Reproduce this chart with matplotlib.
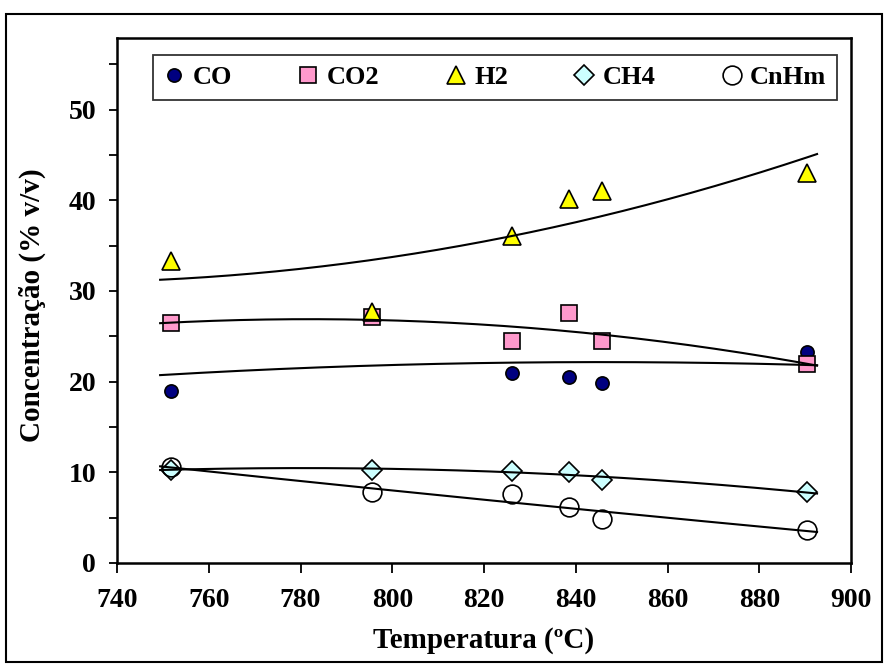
import numpy as np
import matplotlib
matplotlib.use("Agg")
import matplotlib.pyplot as plt
from matplotlib.patches import Rectangle

# dados
temperatura = [751.7, 795.6, 826.0, 838.6, 845.7, 890.5]
co = [19.0, 27.1, 21.0, 20.5, 19.9, 23.3]
co2 = [26.5, 27.1, 24.5, 27.6, 24.5, 21.9]
h2 = [33.3, 27.7, 36.1, 40.1, 41.0, 43.0]
ch4 = [10.3, 10.3, 10.2, 10.0, 9.1, 7.8]
cnhm = [10.6, 7.8, 7.6, 6.2, 4.9, 3.6]

nomes = ["CO", "CO2", "H2", "CH4", "CnHm"]

plt.rcParams['font.family'] = ['Liberation Serif', 'DejaVu Serif']
plt.rcParams['font.weight'] = 'bold'

fig = plt.figure(figsize=(8.88, 6.68), dpi=100)
ax = fig.add_axes([117/888, 1-563/668, (851-117)/888, (563-38)/668])

# moldura externa
fig.patches.append(Rectangle((6/888, 1-662/668), 876/888, 648/668, transform=fig.transFigure,
                             fill=False, edgecolor='black', linewidth=1.5))

estilos = [
    dict(marker='o', ms=9.5, mfc='#000080', mec='black'),
    dict(marker='s', ms=11.5, mfc='#FF99CC', mec='black'),
    dict(marker='^', ms=12.5, mfc='#FFFF00', mec='black'),
    dict(marker='D', ms=10.5, mfc='#CCFFFF', mec='black'),
    dict(marker='o', ms=13.5, mfc='none', mec='black'),
]

t = np.array(temperatura)
tx = np.linspace(t.min() - 2.3, t.max() + 2.1, 200)
for nome, serie, st in zip(nomes, [co, co2, h2, ch4, cnhm], estilos):
    ax.plot(temperatura, serie, linestyle='none', mew=1.2, label=nome, zorder=3, **st)
    # linha de tendencia polinomial (grau 2)
    coef = np.polyfit(t, serie, 2)
    ax.plot(tx, np.polyval(coef, tx), color='black', linewidth=1.5, zorder=4)

ax.set_xlim(740, 900)
ax.set_ylim(0, 57.9)
ax.set_xticks(np.arange(740, 901, 20))
ax.set_yticks(np.arange(0, 51, 10))
ax.set_yticks(np.arange(0, 56, 5), minor=True)
ax.tick_params(axis='y', which='both', direction='out', length=6, width=1.3, labelsize=20, pad=9)
ax.tick_params(axis='x', which='major', direction='out', length=7, width=1.3, labelsize=20, pad=11)
for s in ax.spines.values():
    s.set_linewidth(1.8)

fig.text(484/888, 1-641/668, "Temperatura (ºC)", ha='center', va='center', fontsize=21, fontweight='bold')
fig.text(32/888, 1-305/668, "Concentração (% v/v)", ha='center', va='center', rotation=90,
         fontsize=21, fontweight='bold')

leg = ax.legend(loc='lower left', bbox_to_anchor=(0.049, 0.882, 0.932, 0.099), mode='expand',
                ncol=5, fontsize=19, frameon=True, fancybox=False, handlelength=0.8,
                handletextpad=0.3, borderaxespad=0, borderpad=0.4, columnspacing=1.0)
leg.get_frame().set_edgecolor('black')
leg.get_frame().set_linewidth(1.3)

fig.savefig("out.png", dpi=100)
